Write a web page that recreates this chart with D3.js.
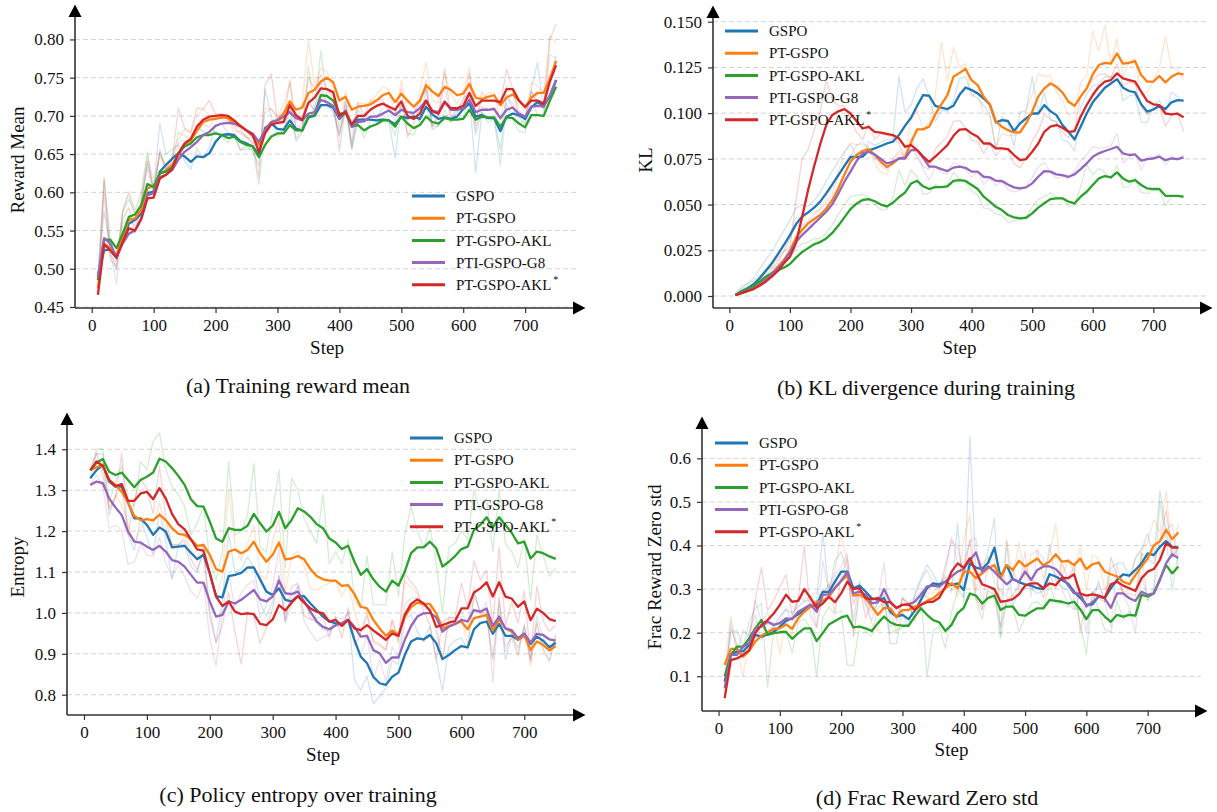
<!DOCTYPE html>
<html><head><meta charset="utf-8">
<script src="https://cdn.jsdelivr.net/npm/d3@7"></script>
<style>body{margin:0;background:#fff}svg{display:block}text{font-family:"Liberation Serif","Times New Roman",serif;fill:#111}</style>
</head><body><svg id="c" width="1217" height="812"></svg>
<script>
const steps=[10,20,30,40,50,60,70,80,90,100,110,120,130,140,150,160,170,180,190,200,210,220,230,240,250,260,270,280,290,300,310,320,330,340,350,360,370,380,390,400,410,420,430,440,450,460,470,480,490,500,510,520,530,540,550,560,570,580,590,600,610,620,630,640,650,660,670,680,690,700,710,720,730,740,750];
const seriesNames=["GSPO","PT-GSPO","PT-GSPO-AKL","PTI-GSPO-G8","PT-GSPO-AKL"];
const seriesStar=[false,false,false,false,true];
const colors=["#1f77b4","#ff7f0e","#2ca02c","#9467bd","#d62728"];
const stepTicks=[0,100,200,300,400,500,600,700];
const rewardTicks=[0.45,0.50,0.55,0.60,0.65,0.70,0.75,0.80];
const klTicks=[0,0.025,0.05,0.075,0.1,0.125,0.15];
const entropyTicks=[0.8,0.9,1.0,1.1,1.2,1.3,1.4];
const fracTicks=[0.1,0.2,0.3,0.4,0.5,0.6];

// (a) reward mean
const A_s_GSPO=[.490,.524,.525,.514,.538,.559,.564,.572,.599,.601,.627,.636,.644,.651,.647,.640,.647,.646,.651,.666,.675,.676,.675,.667,.664,.660,.650,.684,.690,.683,.682,.694,.683,.681,.698,.700,.714,.714,.711,.696,.705,.686,.695,.695,.695,.694,.695,.694,.689,.699,.697,.699,.696,.712,.702,.696,.698,.696,.699,.709,.716,.699,.701,.697,.697,.680,.699,.703,.701,.696,.711,.718,.713,.726,.747];
const A_r_GSPO=[.490,.575,.527,.498,.574,.591,.572,.584,.640,.604,.690,.650,.656,.662,.641,.630,.658,.645,.659,.689,.689,.678,.674,.655,.660,.654,.635,.735,.699,.673,.681,.712,.667,.678,.724,.703,.735,.714,.707,.674,.719,.658,.709,.695,.695,.693,.697,.693,.645,.714,.694,.702,.692,.736,.687,.687,.701,.693,.704,.724,.727,.625,.704,.691,.697,.655,.728,.709,.698,.689,.734,.770,.706,.746,.779];
const A_s_PT=[.475,.533,.527,.518,.542,.564,.566,.577,.605,.609,.624,.629,.636,.649,.662,.668,.681,.692,.695,.696,.698,.697,.690,.686,.681,.674,.662,.681,.692,.695,.703,.719,.708,.711,.730,.734,.745,.750,.744,.720,.725,.708,.712,.713,.715,.720,.727,.730,.718,.729,.720,.712,.720,.740,.732,.726,.738,.734,.727,.729,.742,.724,.722,.725,.727,.714,.724,.728,.720,.711,.724,.730,.730,.749,.772];
const A_r_PT=[.475,.620,.518,.505,.578,.597,.569,.594,.647,.615,.647,.637,.647,.669,.682,.677,.701,.709,.700,.698,.701,.695,.679,.680,.673,.663,.644,.710,.709,.700,.715,.743,.691,.716,.800,.740,.762,.758,.735,.684,.733,.682,.718,.715,.718,.728,.738,.735,.700,.746,.706,.700,.732,.770,.720,.717,.756,.728,.716,.732,.762,.697,.719,.730,.730,.694,.739,.734,.708,.697,.744,.739,.730,.805,.795];
const A_s_AKL=[.485,.538,.538,.527,.546,.568,.571,.583,.611,.607,.625,.627,.633,.651,.660,.664,.672,.675,.675,.677,.675,.671,.673,.666,.662,.660,.646,.662,.673,.677,.677,.688,.681,.681,.699,.701,.727,.726,.720,.703,.704,.686,.688,.681,.686,.689,.694,.694,.686,.699,.690,.684,.688,.699,.692,.690,.697,.695,.695,.696,.708,.695,.699,.698,.698,.686,.698,.697,.690,.685,.701,.701,.700,.720,.738];
const A_r_AKL=[.485,.618,.538,.511,.575,.601,.576,.601,.653,.601,.652,.630,.642,.678,.674,.670,.684,.680,.675,.680,.672,.665,.676,.656,.656,.657,.610,.686,.690,.683,.677,.705,.671,.681,.765,.704,.785,.725,.711,.678,.706,.659,.691,.671,.694,.694,.702,.694,.674,.719,.677,.675,.694,.716,.682,.687,.708,.692,.695,.698,.726,.676,.705,.697,.698,.635,.716,.696,.680,.678,.725,.701,.699,.750,.765];
const A_s_G8=[.490,.540,.533,.515,.533,.546,.550,.566,.596,.599,.620,.623,.629,.643,.653,.659,.666,.675,.679,.687,.690,.691,.690,.687,.681,.677,.666,.681,.692,.694,.699,.705,.697,.694,.703,.705,.721,.718,.713,.697,.707,.686,.692,.693,.699,.699,.703,.707,.701,.708,.705,.704,.710,.720,.707,.705,.719,.708,.708,.710,.721,.705,.708,.708,.709,.697,.708,.711,.703,.699,.712,.713,.712,.727,.746];
const A_r_G8=[.490,.615,.523,.480,.560,.566,.556,.590,.641,.604,.652,.628,.638,.664,.668,.668,.677,.689,.685,.699,.695,.693,.689,.683,.672,.671,.650,.704,.709,.697,.707,.714,.685,.690,.717,.708,.745,.714,.706,.673,.722,.655,.701,.695,.708,.699,.709,.713,.692,.719,.701,.703,.719,.735,.688,.702,.740,.692,.708,.713,.738,.681,.713,.708,.711,.679,.725,.716,.691,.693,.732,.715,.711,.780,.775];
const A_s_AKLs=[.466,.532,.524,.515,.535,.553,.550,.565,.592,.593,.618,.623,.631,.651,.664,.670,.686,.695,.699,.700,.701,.700,.694,.687,.681,.675,.653,.677,.689,.691,.692,.714,.701,.695,.717,.724,.736,.735,.731,.700,.705,.689,.700,.700,.708,.713,.716,.712,.708,.719,.700,.696,.703,.720,.706,.703,.718,.710,.710,.713,.730,.713,.720,.720,.720,.718,.735,.735,.720,.712,.720,.720,.716,.745,.766];
const A_r_AKLs=[.466,.600,.512,.502,.565,.580,.546,.588,.633,.595,.656,.631,.643,.710,.684,.679,.710,.709,.720,.702,.703,.699,.685,.677,.672,.666,.620,.740,.755,.694,.694,.747,.682,.686,.750,.735,.754,.734,.725,.654,.713,.665,.717,.700,.720,.721,.721,.706,.702,.736,.672,.690,.714,.746,.685,.699,.762,.698,.710,.718,.756,.688,.731,.720,.720,.715,.761,.735,.698,.700,.732,.720,.710,.800,.820];

// (b) KL
const B_s_GSPO=[.0005,.0024,.0042,.0064,.0097,.0137,.0179,.0228,.0279,.0333,.0392,.0434,.0457,.0483,.0516,.0561,.0610,.0661,.0712,.0760,.0760,.0762,.0795,.0807,.0820,.0834,.0844,.0880,.0930,.0975,.1040,.1099,.1095,.1040,.1030,.1022,.1040,.1100,.1140,.1126,.1108,.1080,.1048,.0949,.0962,.0957,.0902,.0944,.0971,.0998,.0998,.1044,.1011,.0989,.0935,.0898,.0856,.0926,.0998,.1059,.1099,.1139,.1162,.1186,.1139,.1121,.1113,.1048,.1008,.1020,.1040,.1022,.1059,.1071,.1068];
const B_r_GSPO=[.0005,.0053,.0069,.0097,.0147,.0197,.0242,.0302,.0356,.0414,.0481,.0497,.0492,.0522,.0566,.0629,.0684,.0738,.0789,.0832,.0760,.0765,.0845,.0825,.0840,.0855,.0859,.1200,.1005,.1043,.1138,.1188,.1089,.0958,.1015,.1010,.1067,.1190,.1200,.1105,.1081,.1038,.1000,.0801,.0982,.0950,.0820,.1007,.1012,.1200,.0998,.1113,.0962,.0956,.0854,.0843,.0793,.1031,.1106,.1151,.1159,.1199,.1197,.1222,.1069,.1094,.1101,.0951,.0948,.1038,.1070,.0995,.1115,.1089,.1064];
const B_s_PT=[.0005,.0018,.0031,.0046,.0069,.0097,.0124,.0160,.0197,.0246,.0319,.0361,.0397,.0421,.0443,.0479,.0525,.0589,.0665,.0734,.0771,.0793,.0804,.0771,.0734,.0705,.0725,.0752,.0758,.0840,.0911,.0911,.0926,.0993,.1048,.1099,.1199,.1220,.1241,.1180,.1153,.1090,.1048,.0953,.0926,.0907,.0895,.0895,.0944,.1008,.1090,.1135,.1162,.1144,.1113,.1062,.1040,.1090,.1135,.1212,.1263,.1275,.1271,.1326,.1271,.1275,.1284,.1208,.1172,.1172,.1203,.1168,.1199,.1217,.1212];
const B_r_PT=[.0005,.0038,.0051,.0069,.0104,.0139,.0165,.0214,.0253,.0320,.0429,.0424,.0451,.0457,.0476,.0533,.0594,.0685,.0779,.0838,.0827,.0826,.0821,.0722,.0679,.0662,.0755,.0793,.0767,.0963,.1018,.0911,.0949,.1094,.1390,.1176,.1360,.1252,.1273,.1089,.1113,.0996,.0985,.0811,.0886,.0879,.0877,.0895,.1018,.1104,.1213,.1203,.1203,.1117,.1067,.0986,.1007,.1165,.1203,.1450,.1340,.1480,.1265,.1409,.1189,.1281,.1298,.1094,.1118,.1172,.1250,.1420,.1246,.1244,.1180];
const B_s_AKL=[.0008,.0020,.0038,.0056,.0078,.0105,.0125,.0140,.0155,.0175,.0210,.0240,.0262,.0283,.0295,.0315,.0345,.0385,.0430,.0475,.0505,.0525,.0530,.0518,.0500,.0490,.0510,.0540,.0565,.0615,.0630,.0600,.0585,.0595,.0595,.0600,.0630,.0634,.0629,.0607,.0585,.0543,.0516,.0488,.0470,.0443,.0430,.0425,.0428,.0452,.0483,.0507,.0530,.0534,.0534,.0516,.0507,.0543,.0570,.0607,.0643,.0656,.0649,.0676,.0643,.0625,.0634,.0607,.0588,.0585,.0585,.0548,.0547,.0548,.0543];
const B_r_AKL=[.0008,.0038,.0065,.0083,.0111,.0146,.0155,.0163,.0178,.0205,.0263,.0285,.0295,.0315,.0313,.0345,.0390,.0445,.0498,.0543,.0550,.0555,.0538,.0500,.0473,.0475,.0540,.0690,.0603,.0690,.0653,.0555,.0563,.0610,.0595,.0608,.0675,.0640,.0622,.0574,.0552,.0480,.0476,.0446,.0443,.0403,.0411,.0418,.0433,.0488,.0530,.0543,.0565,.0540,.0534,.0489,.0494,.0597,.0720,.0663,.0697,.0676,.0639,.0717,.0594,.0598,.0648,.0567,.0560,.0581,.0585,.0493,.0546,.0550,.0536];
const B_s_G8=[.0005,.0015,.0027,.0042,.0060,.0087,.0118,.0151,.0188,.0239,.0297,.0333,.0364,.0397,.0428,.0461,.0501,.0561,.0625,.0680,.0738,.0780,.0789,.0774,.0749,.0725,.0734,.0752,.0752,.0798,.0798,.0756,.0707,.0707,.0694,.0683,.0702,.0707,.0701,.0680,.0680,.0652,.0649,.0630,.0629,.0610,.0594,.0588,.0594,.0616,.0652,.0683,.0680,.0665,.0661,.0652,.0665,.0694,.0725,.0762,.0780,.0793,.0804,.0816,.0780,.0771,.0774,.0740,.0749,.0752,.0762,.0743,.0752,.0749,.0758];
const B_r_G8=[.0005,.0030,.0045,.0065,.0087,.0128,.0165,.0201,.0244,.0316,.0384,.0387,.0411,.0447,.0475,.0511,.0561,.0651,.0721,.0763,.0825,.0843,.0803,.0752,.0712,.0689,.0748,.0779,.0752,.0867,.0798,.0693,.0634,.0707,.0675,.0667,.0731,.0715,.0692,.0649,.0680,.0610,.0645,.0602,.0628,.0582,.0570,.0579,.0603,.0649,.0706,.0730,.0676,.0643,.0655,.0639,.0685,.0738,.0772,.0818,.0807,.0813,.0821,.0890,.0726,.0758,.0779,.0689,.0763,.0757,.0777,.0715,.0766,.0745,.0772];
const B_s_AKLs=[.0005,.0015,.0027,.0038,.0056,.0078,.0106,.0137,.0179,.0215,.0290,.0430,.0580,.0710,.0830,.0935,.0990,.1010,.1022,.0998,.0957,.0916,.0925,.0898,.0893,.0887,.0880,.0862,.0816,.0825,.0798,.0762,.0734,.0762,.0793,.0825,.0876,.0910,.0913,.0889,.0871,.0834,.0834,.0807,.0807,.0803,.0771,.0743,.0749,.0789,.0834,.0898,.0926,.0935,.0920,.0898,.0902,.0980,.1044,.1099,.1144,.1172,.1181,.1217,.1190,.1181,.1172,.1117,.1066,.1048,.1044,.0998,.0993,.0997,.0977];
const B_r_AKLs=[.0005,.0030,.0045,.0055,.0083,.0111,.0148,.0184,.0242,.0269,.0520,.0750,.0800,.0905,.1010,.1180,.1073,.1040,.1040,.0962,.0896,.0855,.0939,.0858,.0886,.0878,.0870,.0835,.0747,.0839,.0758,.0708,.0692,.0804,.0840,.0873,.0953,.0961,.0918,.0853,.0844,.0779,.0834,.0767,.0807,.0797,.0723,.0701,.0758,.0849,.0902,.0994,.0968,.0949,.0898,.0865,.0908,.1097,.1140,.1182,.1212,.1214,.1195,.1271,.1150,.1168,.1159,.1035,.0990,.1021,.1038,.0929,.0986,.1003,.0900];

// (c) entropy
const C_s_GSPO=[1.329,1.349,1.362,1.321,1.309,1.309,1.270,1.231,1.231,1.215,1.191,1.209,1.199,1.160,1.162,1.164,1.147,1.131,1.142,1.097,1.041,1.038,1.090,1.093,1.098,1.111,1.111,1.082,1.052,1.044,1.060,1.032,1.028,1.041,1.041,1.023,1.007,0.991,0.979,0.975,0.973,0.983,0.934,0.893,0.877,0.844,0.828,0.824,0.844,0.854,0.897,0.930,0.938,0.935,0.946,0.926,0.887,0.897,0.909,0.919,0.916,0.960,0.975,0.979,0.949,0.973,0.944,0.944,0.934,0.944,0.924,0.942,0.932,0.916,0.927];
const C_r_GSPO=[1.329,1.389,1.388,1.239,1.285,1.309,1.192,1.153,1.231,1.183,1.143,1.245,1.179,1.082,1.166,1.168,1.113,1.099,1.164,1.007,0.929,1.032,1.194,1.099,1.108,1.137,1.111,1.024,0.992,1.028,1.092,0.976,1.020,1.067,1.041,0.987,0.975,0.959,0.955,0.967,0.969,1.003,0.836,0.811,0.845,0.778,0.796,0.816,0.884,0.874,0.983,0.996,0.954,0.929,0.968,0.886,0.809,0.917,0.933,0.939,0.910,1.048,1.005,0.987,0.889,1.021,0.886,0.944,0.914,0.964,0.884,0.978,0.912,0.884,0.949];
const C_s_PT=[1.349,1.356,1.362,1.325,1.313,1.296,1.270,1.237,1.227,1.229,1.226,1.240,1.227,1.207,1.193,1.191,1.180,1.164,1.166,1.142,1.107,1.101,1.150,1.155,1.146,1.154,1.174,1.146,1.125,1.142,1.172,1.131,1.133,1.139,1.131,1.107,1.090,1.082,1.079,1.079,1.066,1.068,1.046,1.015,1.011,0.983,0.962,0.944,0.957,0.946,0.990,1.014,1.025,1.022,1.022,0.999,0.962,0.968,0.973,0.979,0.960,0.987,0.991,0.995,0.957,0.984,0.962,0.954,0.934,0.946,0.909,0.930,0.922,0.908,0.919];
const C_r_PT=[1.349,1.370,1.374,1.251,1.289,1.262,1.218,1.171,1.207,1.233,1.220,1.268,1.201,1.167,1.165,1.187,1.158,1.132,1.170,1.094,1.037,1.089,1.300,1.165,1.128,1.170,1.214,1.090,1.083,1.176,1.232,1.049,1.137,1.151,1.115,1.059,1.056,1.066,1.073,1.079,1.040,1.072,1.002,0.953,1.003,0.927,0.920,0.908,0.983,0.924,1.078,1.062,1.047,1.016,1.022,0.953,0.888,0.980,0.983,0.991,0.922,1.041,0.999,1.003,0.881,1.038,0.918,0.938,0.894,0.970,0.870,0.972,0.906,0.880,0.941];
const C_s_AKL=[1.349,1.367,1.376,1.345,1.337,1.343,1.325,1.307,1.325,1.333,1.343,1.377,1.370,1.354,1.335,1.313,1.278,1.261,1.260,1.223,1.182,1.174,1.207,1.203,1.203,1.213,1.242,1.219,1.199,1.213,1.247,1.207,1.227,1.256,1.248,1.235,1.217,1.207,1.182,1.172,1.156,1.164,1.125,1.093,1.107,1.082,1.064,1.052,1.079,1.067,1.101,1.146,1.160,1.160,1.174,1.158,1.113,1.125,1.139,1.156,1.162,1.203,1.215,1.234,1.209,1.234,1.215,1.196,1.170,1.174,1.133,1.150,1.146,1.138,1.132];
const C_r_AKL=[1.349,1.400,1.400,1.270,1.320,1.360,1.280,1.260,1.370,1.350,1.420,1.440,1.350,1.310,1.290,1.260,1.190,1.220,1.260,1.130,1.080,1.150,1.370,1.190,1.200,1.240,1.365,1.160,1.150,1.250,1.350,1.110,1.330,1.300,1.230,1.200,1.170,1.290,1.120,1.150,1.120,1.180,1.030,1.010,1.140,1.020,1.020,1.020,1.150,1.040,1.190,1.260,1.200,1.160,1.210,1.120,1.000,1.160,1.170,1.200,1.180,1.300,1.250,1.280,1.150,1.300,1.170,1.150,1.110,1.180,1.030,1.190,1.140,1.090,1.110];
const C_s_G8=[1.313,1.321,1.317,1.280,1.258,1.239,1.199,1.174,1.172,1.162,1.154,1.164,1.150,1.129,1.125,1.113,1.093,1.074,1.074,1.028,0.991,0.995,1.028,1.023,1.032,1.044,1.056,1.033,1.028,1.040,1.079,1.048,1.046,1.052,1.028,1.003,0.979,0.966,0.960,0.970,0.975,0.983,0.966,0.942,0.944,0.909,0.901,0.878,0.891,0.891,0.934,0.968,0.991,0.999,1.000,0.989,0.954,0.966,0.973,0.983,0.979,1.007,1.003,1.011,0.968,0.991,0.962,0.958,0.938,0.950,0.927,0.949,0.946,0.935,0.932];
const C_r_G8=[1.313,1.337,1.309,1.206,1.214,1.201,1.119,1.124,1.168,1.142,1.138,1.184,1.122,1.087,1.117,1.089,1.053,1.036,1.074,0.936,0.870,1.003,1.094,1.013,1.050,1.068,1.080,0.987,1.018,1.064,1.157,0.986,1.042,1.064,0.980,0.953,0.931,0.940,0.948,0.990,0.985,0.999,0.932,0.894,0.948,0.839,0.885,0.832,0.917,0.891,1.020,1.036,1.037,1.015,1.002,0.967,0.884,0.990,0.987,1.003,0.971,1.063,0.995,1.027,0.830,1.037,0.904,0.950,0.898,0.974,0.881,0.993,0.940,0.913,0.926];
const C_s_AKLs=[1.349,1.370,1.359,1.325,1.310,1.315,1.274,1.274,1.292,1.296,1.278,1.305,1.280,1.242,1.217,1.204,1.180,1.155,1.152,1.097,1.040,1.017,1.028,1.003,0.997,0.999,0.997,0.973,0.970,0.984,1.019,1.006,1.025,1.041,1.025,1.011,1.003,0.999,0.979,0.983,0.968,0.983,0.962,0.958,0.970,0.957,0.946,0.934,0.950,0.944,0.995,1.022,1.033,1.023,1.006,0.966,0.970,0.976,0.980,1.011,1.011,1.050,1.060,1.075,1.040,1.075,1.040,1.035,1.015,1.028,0.982,1.010,1.000,0.985,0.980];
const C_r_AKLs=[1.349,1.392,1.337,1.257,1.280,1.390,1.192,1.274,1.328,1.304,1.242,1.359,1.230,1.166,1.167,1.178,1.132,1.105,1.146,0.987,0.926,0.971,1.050,0.953,0.875,1.003,0.993,0.925,0.964,1.012,1.089,0.980,1.063,1.073,0.993,0.983,0.987,0.991,0.939,0.991,0.938,1.013,0.920,0.950,0.994,0.931,0.924,0.910,0.982,0.932,1.097,1.076,1.055,1.003,0.972,0.886,0.978,0.988,0.988,1.073,1.011,1.128,1.080,1.105,0.970,1.160,0.970,1.025,0.975,1.054,0.890,1.066,0.980,0.955,0.970];

// (d) frac reward zero std
const D_s_GSPO=[.088,.149,.157,.157,.172,.195,.191,.196,.202,.214,.227,.233,.242,.252,.260,.264,.294,.293,.317,.340,.340,.302,.308,.294,.279,.275,.279,.248,.237,.241,.231,.250,.275,.302,.313,.311,.317,.309,.313,.298,.359,.349,.346,.361,.395,.328,.355,.323,.316,.311,.308,.302,.300,.334,.329,.321,.313,.294,.280,.264,.265,.283,.279,.302,.321,.334,.331,.344,.359,.382,.378,.397,.410,.397,.395];
const D_r_GSPO=[.088,.210,.173,.157,.202,.241,.183,.206,.214,.238,.253,.245,.260,.272,.276,.272,.430,.291,.365,.386,.340,.226,.320,.266,.249,.267,.287,.175,.175,.249,.211,.288,.325,.356,.335,.307,.329,.293,.450,.270,.650,.330,.340,.391,.463,.194,.409,.259,.302,.301,.302,.290,.296,.402,.319,.305,.297,.256,.252,.232,.267,.319,.271,.348,.359,.360,.325,.370,.389,.428,.370,.525,.436,.371,.391];
const D_s_PT=[.126,.163,.163,.145,.158,.180,.193,.201,.209,.210,.219,.209,.233,.248,.260,.271,.273,.283,.302,.319,.331,.285,.287,.279,.260,.241,.257,.256,.237,.252,.252,.260,.264,.273,.279,.290,.302,.313,.302,.340,.340,.325,.336,.348,.355,.325,.355,.344,.365,.352,.361,.370,.354,.363,.380,.363,.365,.355,.370,.346,.357,.361,.340,.334,.329,.317,.311,.332,.352,.370,.400,.410,.436,.415,.430];
const D_r_PT=[.126,.237,.163,.100,.184,.224,.219,.217,.225,.150,.237,.189,.281,.278,.284,.293,.277,.303,.340,.430,.355,.193,.291,.263,.222,.203,.289,.254,.199,.282,.252,.276,.272,.291,.291,.312,.326,.335,.280,.416,.470,.295,.358,.372,.369,.265,.415,.322,.407,.326,.379,.388,.322,.381,.450,.329,.369,.335,.400,.298,.379,.369,.298,.322,.319,.293,.299,.374,.392,.406,.460,.430,.525,.373,.450];
const D_s_AKL=[.100,.149,.168,.168,.187,.210,.229,.195,.199,.201,.202,.186,.199,.210,.210,.181,.199,.219,.227,.235,.239,.212,.214,.210,.204,.222,.237,.224,.218,.216,.216,.237,.256,.241,.229,.224,.204,.218,.245,.257,.290,.285,.267,.280,.285,.252,.260,.260,.241,.239,.248,.256,.256,.275,.273,.271,.267,.271,.254,.231,.252,.252,.237,.225,.241,.237,.241,.239,.287,.283,.290,.323,.355,.336,.352];
const D_r_AKL=[.100,.200,.206,.168,.225,.256,.267,.075,.207,.205,.204,.154,.225,.232,.210,.100,.235,.259,.243,.251,.125,.125,.218,.202,.192,.258,.267,.198,.206,.212,.216,.279,.294,.100,.205,.214,.164,.246,.299,.281,.356,.275,.231,.306,.295,.186,.276,.260,.203,.235,.266,.272,.256,.313,.269,.267,.259,.279,.220,.150,.294,.252,.207,.201,.273,.229,.249,.235,.383,.275,.304,.500,.419,.298,.384];
const D_s_G8=[.073,.149,.149,.168,.176,.209,.214,.225,.218,.222,.233,.231,.248,.256,.265,.248,.287,.288,.303,.319,.340,.290,.294,.287,.267,.270,.300,.271,.256,.264,.265,.271,.287,.306,.308,.306,.317,.329,.340,.346,.367,.384,.340,.352,.340,.325,.311,.323,.317,.340,.321,.344,.352,.352,.346,.331,.309,.290,.290,.260,.270,.283,.279,.257,.290,.290,.279,.273,.294,.287,.290,.321,.359,.380,.371];
const D_r_G8=[.073,.225,.149,.206,.192,.275,.224,.247,.204,.230,.255,.227,.282,.272,.283,.214,.365,.290,.333,.351,.382,.190,.302,.273,.227,.276,.360,.213,.226,.280,.267,.283,.319,.344,.312,.302,.339,.420,.362,.358,.409,.418,.252,.376,.316,.295,.283,.347,.305,.386,.283,.390,.368,.352,.334,.301,.265,.252,.290,.200,.290,.309,.271,.213,.356,.290,.257,.200,.336,.273,.296,.383,.435,.450,.353];
const D_s_AKLs=[.050,.137,.141,.149,.160,.199,.218,.229,.244,.264,.287,.271,.273,.300,.280,.257,.267,.282,.270,.290,.317,.300,.302,.279,.277,.279,.270,.270,.257,.264,.265,.252,.264,.270,.271,.280,.305,.340,.359,.349,.371,.340,.311,.306,.300,.271,.273,.277,.288,.308,.313,.313,.302,.313,.309,.326,.325,.334,.290,.285,.288,.285,.280,.311,.317,.308,.302,.296,.325,.340,.346,.367,.405,.395,.395];
const D_r_AKLs=[.050,.160,.149,.165,.182,.277,.350,.251,.274,.304,.333,.239,.277,.400,.240,.211,.287,.312,.246,.330,.371,.266,.306,.233,.273,.283,.252,.270,.231,.278,.267,.226,.288,.282,.273,.298,.355,.410,.397,.329,.415,.278,.253,.296,.288,.213,.277,.285,.310,.348,.323,.313,.280,.335,.301,.360,.323,.352,.202,.275,.294,.279,.270,.373,.329,.290,.290,.284,.383,.370,.358,.409,.481,.375,.395];

const panels=[
 {smooth:[A_s_GSPO,A_s_PT,A_s_AKL,A_s_G8,A_s_AKLs],raw:[A_r_GSPO,A_r_PT,A_r_AKL,A_r_G8,A_r_AKLs],
  x0:75,x1:579,y0:308,y1:11,yDom:[0.4487,0.8372],yTicks:rewardTicks,fmt:d3.format(".2f"),
  ylabel:"Reward Mean",ylabX:18,ylabY:160,stepY:354,caption:"(a) Training reward mean",capX:298,capY:393,legX:412,legY:196},
 {smooth:[B_s_GSPO,B_s_PT,B_s_AKL,B_s_G8,B_s_AKLs],raw:[B_r_GSPO,B_r_PT,B_r_AKL,B_r_G8,B_r_AKLs],
  x0:713,x1:1206,y0:308,y1:12,yDom:[-0.00656,0.1553],yTicks:klTicks,fmt:d3.format(".3f"),
  ylabel:"KL",ylabX:646,ylabY:160,stepY:354,caption:"(b) KL divergence during training",capX:926,capY:395,legX:725,legY:31},
 {smooth:[C_s_GSPO,C_s_PT,C_s_AKL,C_s_G8,C_s_AKLs],raw:[C_r_GSPO,C_r_PT,C_r_AKL,C_r_G8,C_r_AKLs],
  x0:67,x1:579,y0:715,y1:419,yDom:[0.7504,1.474],yTicks:entropyTicks,fmt:d3.format(".1f"),
  ylabel:"Entropy",ylabX:18,ylabY:567,stepY:761,caption:"(c) Policy entropy over training",capX:298,capY:802,legX:410,legY:438},
 {smooth:[D_s_GSPO,D_s_PT,D_s_AKL,D_s_G8,D_s_AKLs],raw:[D_r_GSPO,D_r_PT,D_r_AKL,D_r_G8,D_r_AKLs],
  x0:702,x1:1201,y0:711,y1:423,yDom:[0.0204,0.681],yTicks:fracTicks,fmt:d3.format(".1f"),
  ylabel:"Frac Reward Zero std",ylabX:655,ylabY:567,stepY:756,caption:"(d) Frac Reward Zero std",capX:927,capY:805,legX:715,legY:443}
];

const svg=d3.select("#c");
const axisCol="#333";
panels.forEach(p=>{
  const g=svg.append("g");
  const x=d3.scaleLinear().domain([-27,787]).range([p.x0,p.x1]);
  const y=d3.scaleLinear().domain(p.yDom).range([p.y0,p.y1]);
  // grid
  g.selectAll(".grid").data(p.yTicks).join("line")
    .attr("x1",p.x0).attr("x2",p.x1).attr("y1",d=>y(d)).attr("y2",d=>y(d))
    .attr("stroke","#d4d4d4").attr("stroke-width",1).attr("stroke-dasharray","5,3");
  const line=d3.line().x((d,i)=>x(steps[i])).y(d=>y(d));
  p.raw.forEach((s,k)=>{
    g.append("path").attr("d",line(s)).attr("fill","none").attr("stroke",colors[k])
      .attr("stroke-width",1.3).attr("stroke-opacity",0.2).attr("stroke-linejoin","round");
  });
  p.smooth.forEach((s,k)=>{
    g.append("path").attr("d",line(s)).attr("fill","none").attr("stroke",colors[k])
      .attr("stroke-width",2.3).attr("stroke-linejoin","round");
  });
  // axes
  const xa=g.append("g").attr("transform",`translate(0,${p.y0})`)
    .call(d3.axisBottom(x).tickValues(stepTicks).tickSize(5).tickPadding(6).tickFormat(d3.format("d")));
  const ya=g.append("g").attr("transform",`translate(${p.x0},0)`)
    .call(d3.axisLeft(y).tickValues(p.yTicks).tickSize(5).tickPadding(6).tickFormat(p.fmt));
  [xa,ya].forEach(a=>{
    a.select(".domain").remove();
    a.selectAll("line").attr("stroke",axisCol).attr("stroke-width",1.2);
    a.selectAll("text").attr("font-size",17).attr("font-family","Liberation Serif").attr("fill","#111");
  });
  g.append("line").attr("x1",p.x0).attr("x2",p.x0).attr("y1",p.y0).attr("y2",p.y1).attr("stroke",axisCol).attr("stroke-width",1.6);
  g.append("line").attr("x1",p.x0).attr("x2",p.x1).attr("y1",p.y0).attr("y2",p.y0).attr("stroke",axisCol).attr("stroke-width",1.6);
  g.append("path").attr("d",`M${p.x0},${p.y1-6.5}L${p.x0+6.5},${p.y1+6}L${p.x0-6.5},${p.y1+6}Z`).attr("fill","#000");
  g.append("path").attr("d",`M${p.x1+6.5},${p.y0}L${p.x1-6},${p.y0-6.5}L${p.x1-6},${p.y0+6.5}Z`).attr("fill","#000");
  // labels
  g.append("text").attr("x",(p.x0+p.x1)/2).attr("y",p.stepY).attr("text-anchor","middle").attr("font-size",19).text("Step");
  g.append("text").attr("transform",`translate(${p.ylabX},${p.ylabY}) rotate(-90)`).attr("dy","0.33em")
    .attr("text-anchor","middle").attr("font-size",19).text(p.ylabel);
  g.append("text").attr("x",p.capX).attr("y",p.capY).attr("text-anchor","middle").attr("font-size",22).text(p.caption);
  // legend
  seriesNames.forEach((n,k)=>{
    const ly=p.legY+k*22.2;
    g.append("line").attr("x1",p.legX).attr("x2",p.legX+33).attr("y1",ly).attr("y2",ly)
      .attr("stroke",colors[k]).attr("stroke-width",3);
    const t=g.append("text").attr("x",p.legX+44).attr("y",ly).attr("dy","0.35em").attr("font-size",15).text(n);
    if(seriesStar[k]) t.append("tspan").attr("dx",2).attr("dy",-7).attr("font-size",10).text("*");
  });
});
</script></body></html>
